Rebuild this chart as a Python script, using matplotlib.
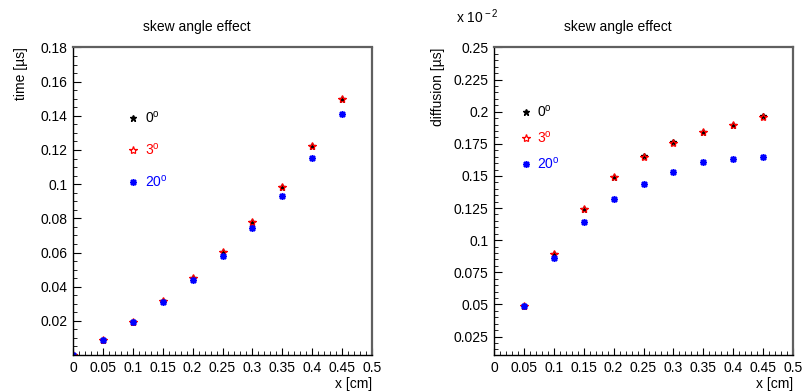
import matplotlib
matplotlib.use("Agg")
import matplotlib.pyplot as plt
from matplotlib.ticker import MultipleLocator, FixedLocator

plt.rcParams['font.family'] = ['Liberation Sans', 'DejaVu Sans']
plt.rcParams['mathtext.fontset'] = 'custom'
plt.rcParams['mathtext.rm'] = 'Liberation Sans'

# time vs x
x_time = [0.0, 0.05, 0.10, 0.15, 0.20, 0.25, 0.30, 0.35, 0.40, 0.45]
time_0 = [0.0, 0.0088, 0.0195, 0.0315, 0.0452, 0.0602, 0.0776, 0.0983, 0.1226, 0.1499]
time_3 = [0.0, 0.0088, 0.0195, 0.0315, 0.0452, 0.0602, 0.0776, 0.0983, 0.1226, 0.1499]
time_20 = [0.0, 0.0088, 0.0193, 0.0313, 0.0437, 0.0578, 0.0741, 0.0931, 0.1156, 0.1413]

# diffusion vs x
x_diff = [0.05, 0.10, 0.15, 0.20, 0.25, 0.30, 0.35, 0.40, 0.45]
diff_0 = [0.0490, 0.0895, 0.1240, 0.1490, 0.1655, 0.1765, 0.1845, 0.1900, 0.1970]
diff_3 = [0.0488, 0.0895, 0.1239, 0.1488, 0.1651, 0.1757, 0.1842, 0.1899, 0.1956]
diff_20 = [0.0488, 0.0861, 0.1141, 0.1317, 0.1441, 0.1534, 0.1609, 0.1635, 0.1651]

labels = ['0$^{\\rm o}$', '3$^{\\rm o}$', '20$^{\\rm o}$']
colors = ['black', 'red', 'blue']

fig = plt.figure(figsize=(8.02, 3.91), dpi=100)
ax1 = fig.add_axes([73/802, 1 - 355/391, 299/802, 307.5/391])
ax2 = fig.add_axes([494/802, 1 - 355/391, 299/802, 307.5/391])


def draw(ax, x, s0, s3, s20):
    h0, = ax.plot(x, s0, ls='none', marker='*', ms=4.5, color='black')
    h3, = ax.plot(x, s3, ls='none', marker='*', ms=6, mfc='none', mec='red', mew=0.9)
    h20, = ax.plot(x, s20, ls='none', marker=(8, 2, 0), ms=5, mec='blue', mew=1.1)
    return [h0, h3, h20]


def style(ax, ymin, ymax, major, minor):
    ax.set_xlim(0, 0.5)
    ax.set_ylim(ymin, ymax)
    ax.xaxis.set_major_locator(MultipleLocator(0.05))
    ax.xaxis.set_minor_locator(MultipleLocator(0.01))
    ax.yaxis.set_major_locator(MultipleLocator(major))
    ax.yaxis.set_minor_locator(MultipleLocator(minor))
    ax.tick_params(which='both', direction='in', top=False, right=False, labelsize=10)
    ax.tick_params(axis='x', which='major', length=5, pad=4)
    ax.tick_params(axis='y', which='major', length=6, pad=4)
    ax.tick_params(which='minor', length=3)
    ax.xaxis.set_major_formatter(plt.FuncFormatter(lambda v, p: ('%.2f' % v).rstrip('0').rstrip('.') if v else '0'))
    ax.yaxis.set_major_formatter(plt.FuncFormatter(lambda v, p: ('%.3f' % v).rstrip('0').rstrip('.')))
    for s in ['top', 'right']:
        ax.spines[s].set_color('#606060')
        ax.spines[s].set_linewidth(1.6)
    for s in ['left', 'bottom']:
        ax.spines[s].set_color('black')
        ax.spines[s].set_linewidth(1.0)
    ax.set_xlabel('x [cm]', fontsize=10, loc='right', labelpad=2)


h = draw(ax1, x_time, time_0, time_3, time_20)
style(ax1, 0, 0.18, 0.02, 0.005)
yt = [v for v in ax1.get_yticks() if v > 0.001]
ax1.yaxis.set_major_locator(FixedLocator(yt))
ax1.set_ylabel('time [µs]', fontsize=10, loc='top', labelpad=9)
ax1.legend(h, labels, loc='upper left', bbox_to_anchor=(0.165, 0.815), frameon=False,
           handlelength=0.8, handletextpad=0.4, labelspacing=1.15, fontsize=10,
           labelcolor=colors, borderaxespad=0)

h = draw(ax2, x_diff, diff_0, diff_3, diff_20)
style(ax2, 0.0106, 0.25, 0.025, 0.005)
ax2.set_ylabel('diffusion [µs]', fontsize=10, loc='top', labelpad=6)
ax2.legend(h, labels, loc='upper left', bbox_to_anchor=(0.07, 0.835), frameon=False,
           handlelength=0.8, handletextpad=0.4, labelspacing=0.72, fontsize=10,
           labelcolor=colors, borderaxespad=0)

fig.text(197/802, 1 - 27/391, 'skew angle effect', ha='center', va='center', fontsize=10)
fig.text(618/802, 1 - 27/391, 'skew angle effect', ha='center', va='center', fontsize=10)
fig.text(456/802, 1 - 17/391, 'x 10$^{\\rm -2}$', ha='left', va='center', fontsize=10)

fig.savefig('out.png', dpi=100)
